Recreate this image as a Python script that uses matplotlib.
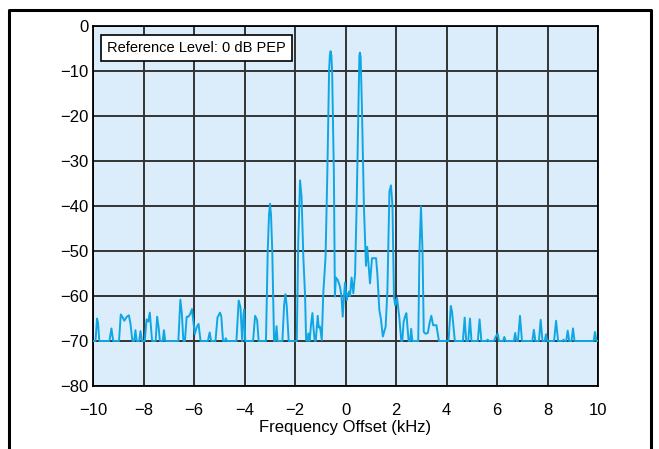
import matplotlib
matplotlib.use("Agg")
import matplotlib.pyplot as plt
from matplotlib.lines import Line2D

plt.rcParams['font.family'] = ['Liberation Sans', 'DejaVu Sans']

# Spectrum trace (kHz, dB)
freq_khz = [
    -10.0, -9.90, -9.84, -9.80, -9.75, -9.35, -9.27, -9.20,
    -8.97, -8.90, -8.82, -8.76, -8.66, -8.58, -8.52, -8.44,
    -8.37, -8.32, -8.27, -8.17, -8.12, -8.06,
    -7.95, -7.88, -7.81, -7.75, -7.66,
    -7.52, -7.46, -7.40, -7.35, -7.24, -7.19, -7.14,
    -6.62, -6.54, -6.48, -6.42, -6.36, -6.29, -6.22, -6.15, -6.08, -5.97, -5.90, -5.82, -5.74,
    -5.45, -5.38, -5.32,
    -5.15, -5.07, -4.97, -4.92, -4.85, -4.78, -4.74, -4.70,
    -4.32, -4.23, -4.16, -4.09, -4.04, -4.01, -3.97,
    -3.66, -3.58, -3.50, -3.44,
    -3.15, -3.08, -3.03, -2.99, -2.95, -2.90, -2.83,
    -2.78, -2.73, -2.69,
    -2.50, -2.43, -2.38, -2.33, -2.25,
    -1.93, -1.87, -1.80, -1.74, -1.67, -1.60, -1.56,
    -1.51, -1.47, -1.42, -1.36, -1.31, -1.27, -1.22, -1.18, -1.10, -1.06, -1.01, -0.94,
    -0.88, -0.79, -0.72, -0.65, -0.62, -0.59, -0.56, -0.53, -0.46, -0.42,
    -0.38, -0.30, -0.22, -0.16, -0.11, -0.06, -0.02, 0.05, 0.10, 0.14, 0.18, 0.24, 0.31, 0.38,
    0.44, 0.51, 0.55, 0.57, 0.60, 0.65, 0.73,
    0.81, 0.86, 0.97, 1.05, 1.21, 1.26, 1.34, 1.40, 1.48, 1.59, 1.66,
    1.74, 1.80, 1.86, 1.92, 1.97, 2.04, 2.13, 2.21,
    2.25, 2.30, 2.36, 2.41, 2.50, 2.56, 2.60, 2.65,
    2.88, 2.93, 2.99, 3.05, 3.10, 3.17, 3.26, 3.33, 3.40, 3.47, 3.60, 3.70,
    4.08, 4.17, 4.22, 4.28, 4.33,
    4.65, 4.72, 4.78, 4.86, 4.93, 4.99,
    5.24, 5.31, 5.38, 5.58, 5.63, 5.68,
    5.88, 5.95, 6.03, 6.08, 6.24, 6.29, 6.34,
    6.67, 6.72, 6.77, 6.83, 6.91, 6.99,
    7.40, 7.46, 7.52, 7.66, 7.73, 7.80, 7.89, 7.94, 7.99,
    8.26, 8.34, 8.42, 8.58, 8.63, 8.68,
    8.74, 8.80, 8.86, 8.95, 9.01, 9.07,
    9.83, 9.88, 9.94, 10.0,
]
level_db = [
    -70, -70, -65.0, -66.0, -70, -70, -67.2, -70,
    -70, -64.1, -64.8, -65.5, -64.6, -64.3, -66.0, -70,
    -70, -67.6, -70, -70, -67.8, -70,
    -70, -65.2, -65.7, -63.7, -70,
    -70, -64.6, -67.0, -70, -70, -67.6, -70,
    -70, -60.8, -64.0, -70, -70, -64.6, -64.6, -64.0, -62.9, -68.5, -67.0, -66.2, -70,
    -70, -68.1, -70,
    -70, -64.8, -63.7, -64.5, -70, -70, -69.4, -70,
    -70, -61.0, -62.5, -70, -64.0, -63.0, -70,
    -70, -64.4, -65.4, -70,
    -70, -50.0, -42.0, -39.5, -42.0, -50.0, -70,
    -70, -66.7, -70,
    -70, -62.0, -59.6, -62.0, -70,
    -70, -47.6, -34.3, -38.0, -51.3, -60.1, -69.8,
    -70, -68.3, -70, -66.0, -63.8, -67.0, -70, -70, -64.4, -67.0, -66.8, -69.8,
    -59.4, -51.3, -32.8, -10.0, -6.5, -5.6, -6.5, -10.0, -32.8, -60.1,
    -55.9, -56.5, -57.9, -60.0, -64.6, -60.0, -57.0, -60.9, -59.5, -59.0, -60.0, -55.9, -59.4, -55.0,
    -40.2, -18.0, -6.6, -5.9, -6.8, -18.0, -40.2,
    -53.3, -49.1, -57.2, -51.6, -51.6, -55.0, -63.1, -65.0, -69.0, -66.8, -58.7,
    -36.8, -35.4, -40.0, -60.2, -62.1, -60.4, -64.7, -70,
    -70, -65.8, -64.5, -63.8, -70, -70, -67.3, -70,
    -70, -50.0, -40.1, -50.0, -68.0, -68.4, -68.2, -66.0, -64.4, -66.5, -66.5, -70,
    -70, -62.2, -63.5, -67.0, -70,
    -70, -64.8, -70, -70, -65.0, -70,
    -70, -65.2, -70, -70, -69.7, -70,
    -70, -69.0, -68.4, -70, -70, -69.1, -70,
    -70, -68.2, -70, -70, -64.4, -70,
    -70, -67.5, -70, -70, -65.3, -70, -70, -68.5, -70,
    -70, -65.5, -70, -70, -69.7, -70,
    -70, -67.7, -70, -70, -67.2, -70,
    -70, -68.0, -70, -70,
]

x_ticks = [-10, -8, -6, -4, -2, 0, 2, 4, 6, 8, 10]
y_ticks = [0, -10, -20, -30, -40, -50, -60, -70, -80]
x_label = "Frequency Offset (kHz)"
note_text = "Reference Level: 0 dB PEP"

fig = plt.figure(figsize=(6.59, 4.49), dpi=100)
ax = fig.add_axes([93 / 659, 1 - 386 / 449, (598 - 93) / 659, (386 - 26) / 449])
ax.set_facecolor('#dbedfb')
ax.plot(freq_khz, level_db, color='#10a6e4', lw=1.4, zorder=3, solid_joinstyle='round')
ax.set_xlim(-10, 10)
ax.set_ylim(-80, 0)
ax.set_xticks(x_ticks)
ax.set_yticks(y_ticks)
ax.set_xticklabels([f"{t}".replace('-', '\u2212') for t in x_ticks])
ax.set_yticklabels([f"{t}".replace('-', '\u2212') for t in y_ticks])
ax.grid(True, color='#333333', lw=1.4, zorder=1)
ax.set_axisbelow(True)
ax.tick_params(length=0, labelsize=12, colors='black')
ax.tick_params(axis='x', pad=12)
ax.tick_params(axis='y', pad=3)
for s in ax.spines.values():
    s.set_color('black')
    s.set_linewidth(1.3)
ax.set_xlabel(x_label, fontsize=12, labelpad=2)

ax.text(-9.45, -3.3, note_text, fontsize=10.5, ha='left', va='top', zorder=5,
        bbox=dict(boxstyle='square,pad=0.42', facecolor='white', edgecolor='black', lw=1.2))

# figure frame (left, top, right)
fx0, fx1, fy = 9 / 659, 651 / 659, 1 - 10 / 449
fig.add_artist(Line2D([fx0, fx0, fx1, fx1], [0, fy, fy, 0], color='black', lw=2.2,
                      transform=fig.transFigure))

fig.savefig('out.png', dpi=100)
